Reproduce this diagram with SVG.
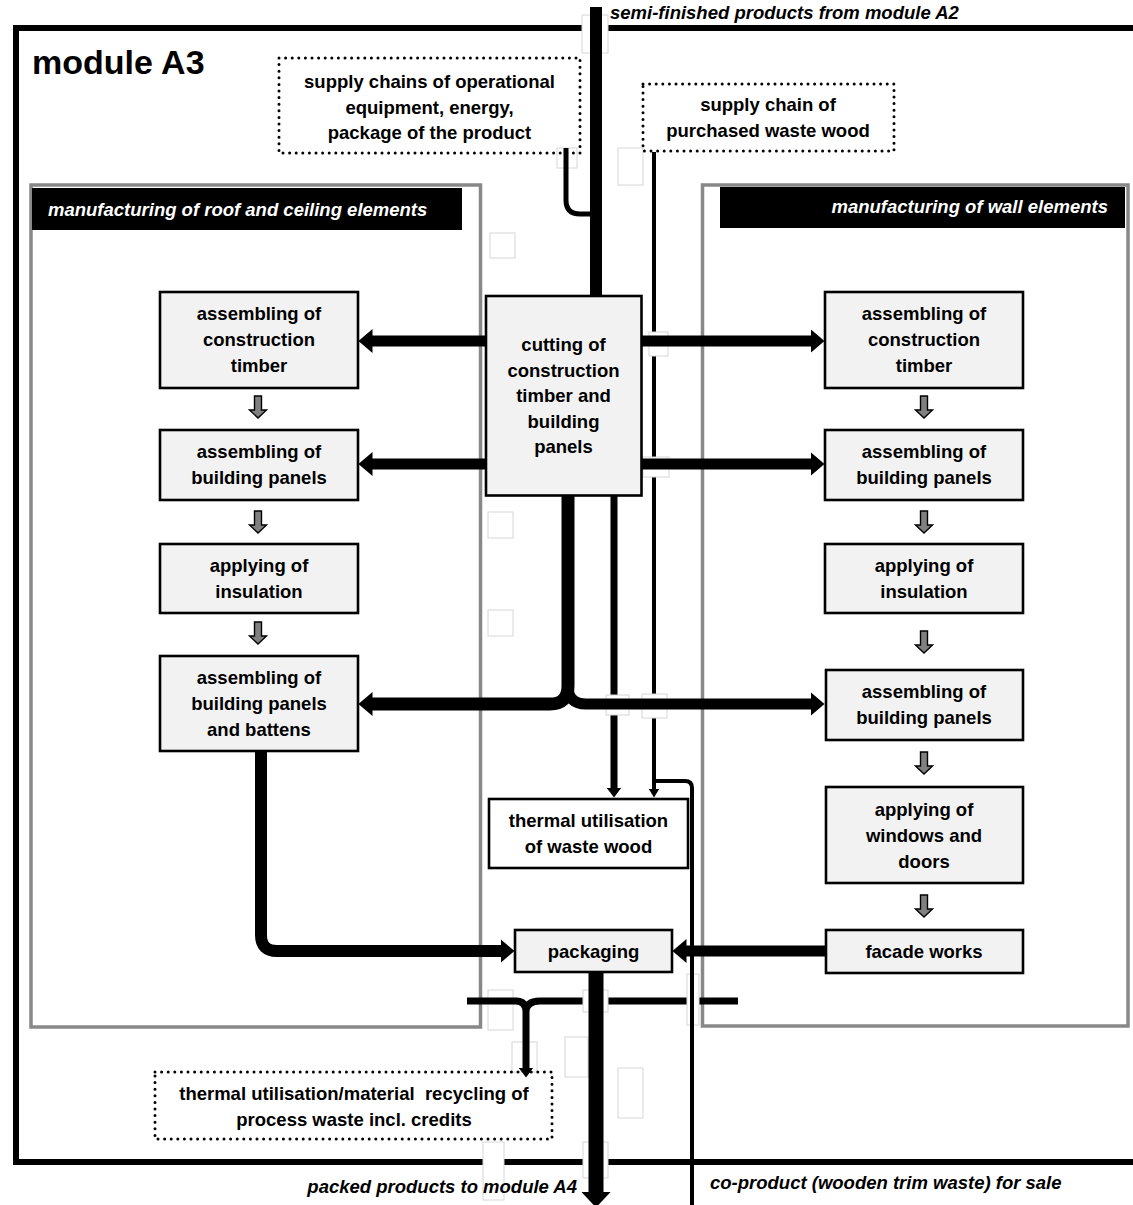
<svg xmlns="http://www.w3.org/2000/svg" width="1133" height="1205" viewBox="0 0 1133 1205">
<style>
  text{font-family:"Liberation Sans",Arial,sans-serif;font-weight:bold;font-size:18.5px;fill:#000}
  .c{text-anchor:middle}
  .it{font-style:italic}
  .wh{fill:#fff}
  .title{font-size:34px}
  .box{fill:#f2f2f2;stroke:#000;stroke-width:2.6}
  .wbox{fill:#fff;stroke:#000;stroke-width:2.6}
  .dot{fill:none;stroke:#000;stroke-width:3;stroke-dasharray:0 6.6;stroke-linecap:round}
  .panel{fill:#fff;stroke:#888;stroke-width:3.5}
  .hdr{fill:#000}
  .art{fill:#fff;stroke:#d6d6d6;stroke-width:1}
  .ln{fill:none;stroke:#000;stroke-linecap:butt;stroke-linejoin:round}
  .w4{stroke-width:4}
  .w5{stroke-width:5}
  .w7{stroke-width:7}
  .w11{stroke-width:11}
  .w12{stroke-width:12}
  .w13{stroke-width:13}
  .w15{stroke-width:15}
  .sm{fill:#808080;stroke:#000;stroke-width:1.4}
</style>
<defs>
  <marker id="big" viewBox="0 -12 14 24" refX="0.5" refY="0" markerWidth="14" markerHeight="24" markerUnits="userSpaceOnUse" orient="auto"><path d="M0,-12 L14,0 L0,12 Z" fill="#000"/></marker>
  <marker id="med" viewBox="0 -7.5 10 15" refX="0.5" refY="0" markerWidth="10" markerHeight="15" markerUnits="userSpaceOnUse" orient="auto"><path d="M0,-7.5 L10,0 L0,7.5 Z" fill="#000"/></marker>
  <marker id="thin" viewBox="0 -5.5 9 11" refX="0.5" refY="0" markerWidth="9" markerHeight="11" markerUnits="userSpaceOnUse" orient="auto"><path d="M0,-5.5 L9,0 L0,5.5 Z" fill="#000"/></marker>
  <marker id="huge" viewBox="0 -15 16 30" refX="0.5" refY="0" markerWidth="16" markerHeight="30" markerUnits="userSpaceOnUse" orient="auto"><path d="M0,-15 L16,0 L0,15 Z" fill="#000"/></marker>
  <path id="down" class="sm" d="M-3.5,0 H3.5 V14 H8.5 L0,22 L-8.5,14 H-3.5 Z"/>
</defs>

<!-- module frame -->
<g id="module">
  <path d="M1140,28 H16 V1162 H1140" fill="none" stroke="#000" stroke-width="6"/>
  <text class="title" x="32" y="74">module A3</text>
</g>

<!-- panels -->
<g id="panel-roof">
  <rect class="panel" x="31" y="185" width="449.5" height="842"/>
  <rect class="hdr" x="32" y="188" width="430" height="42"/>
  <text class="it wh" x="48" y="216">manufacturing of roof and ceiling elements</text>
</g>
<g id="panel-wall">
  <rect class="panel" x="702.5" y="185" width="425.5" height="841"/>
  <rect class="hdr" x="720" y="187" width="405" height="41"/>
  <text class="it wh" x="1108" y="213" text-anchor="end">manufacturing of wall elements</text>
</g>

<!-- connectors drawn beneath the faint leftover rectangles -->
<g id="connectors-under">
  <path class="ln w4" d="M654,152 V789" marker-end="url(#thin)"/>
  <path class="ln w7" d="M614,496 V788" marker-end="url(#med)"/>
  <path class="ln w7" d="M540,1001 H738"/>
</g>

<!-- faint leftover rectangles visible in the picture -->
<g id="leftovers">
  <rect class="art" x="582" y="15" width="26" height="38"/>
  <rect class="art" x="557" y="148" width="20" height="20"/>
  <rect class="art" x="618" y="148" width="25" height="37"/>
  <rect class="art" x="490" y="233" width="25" height="25"/>
  <rect class="art" x="649" y="332" width="19" height="24"/>
  <rect class="art" x="643" y="457" width="26" height="20"/>
  <rect class="art" x="488" y="512" width="25" height="26"/>
  <rect class="art" x="488" y="610" width="25" height="26"/>
  <rect class="art" x="606" y="695" width="23" height="20"/>
  <rect class="art" x="642" y="694" width="25" height="24"/>
  <rect class="art" x="687" y="974" width="12" height="51"/>
  <rect class="art" x="488" y="990" width="25" height="40"/>
  <rect class="art" x="583" y="990" width="25" height="22"/>
  <rect class="art" x="512" y="1042" width="25" height="30"/>
  <rect class="art" x="565" y="1037" width="23" height="40"/>
  <rect class="art" x="618" y="1068" width="25" height="50"/>
  <rect class="art" x="583" y="1142" width="25" height="36"/>
  <rect class="art" x="483" y="1142" width="21" height="58"/>
</g>

<g id="connectors">
  <!-- from module A2 -->
  <path class="ln w12" d="M596,7 V296"/>
  <path class="ln w5" d="M566,148 V200 Q566,214 580,214 H596"/>
  <!-- cutting -> roof / wall -->
  <path class="ln w11" d="M486,341 H372" marker-end="url(#big)"/>
  <path class="ln w11" d="M486,464 H372" marker-end="url(#big)"/>
  <path class="ln w11" d="M641,341 H811" marker-end="url(#big)"/>
  <path class="ln w11" d="M641,464 H811" marker-end="url(#big)"/>
  <path class="ln w13" d="M568,495 V686 Q568,704 550,704 H372" marker-end="url(#big)"/>
  <path class="ln w11" d="M568,686 Q568,704 586,704 H811" marker-end="url(#big)"/>
  <!-- co-product branch -->
  <path class="ln w4" d="M654,781 H685 Q692,781 692,788 V1210"/>
  <!-- to packaging -->
  <path class="ln w12" d="M261,751 V935 Q261,951 277,951 H501" marker-end="url(#big)"/>
  <path class="ln w11" d="M825,951 H686" marker-end="url(#big)"/>
  <path class="ln w15" d="M596,971 V1192" marker-end="url(#huge)"/>
  <!-- process waste -->
  <path class="ln w7" d="M467,1001 H516 Q526,1001 526,1012 M540,1001 Q526,1001 526,1012 V1068" marker-end="url(#med)"/>
  <!-- small grey arrows -->
  <use href="#down" x="258" y="396"/>
  <use href="#down" x="258" y="511"/>
  <use href="#down" x="258" y="622"/>
  <use href="#down" x="924" y="396"/>
  <use href="#down" x="924" y="511"/>
  <use href="#down" x="924" y="631"/>
  <use href="#down" x="924" y="752"/>
  <use href="#down" x="924" y="895"/>
</g>

<!-- external labels -->
<g id="labels">
  <text class="it" x="610" y="19">semi-finished products from module A2</text>
  <text class="it" x="577" y="1193" text-anchor="end">packed products to module A4</text>
  <text class="it" x="710" y="1189">co-product (wooden trim waste) for sale</text>
</g>

<!-- dotted boxes -->
<g id="supply-equipment">
  <rect class="dot" x="279" y="58" width="301" height="95"/>
  <text class="c" x="429.5" y="88">supply chains of operational</text>
  <text class="c" x="429.5" y="114">equipment, energy,</text>
  <text class="c" x="429.5" y="139">package of the product</text>
</g>
<g id="supply-wastewood">
  <rect class="dot" x="643" y="84" width="251" height="67"/>
  <text class="c" x="768" y="111">supply chain of</text>
  <text class="c" x="768" y="137">purchased waste wood</text>
</g>
<g id="process-waste">
  <rect class="dot" x="155" y="1072" width="397" height="67"/>
  <text class="c" x="354" y="1100" xml:space="preserve">thermal utilisation/material  recycling of</text>
  <text class="c" x="354" y="1126">process waste incl. credits</text>
</g>

<!-- central nodes -->
<g id="cutting">
  <rect class="box" x="486" y="296" width="155.5" height="199.5"/>
  <text class="c" x="563.5" y="351">cutting of</text>
  <text class="c" x="563.5" y="377">construction</text>
  <text class="c" x="563.5" y="402">timber and</text>
  <text class="c" x="563.5" y="428">building</text>
  <text class="c" x="563.5" y="453">panels</text>
</g>
<g id="thermal-waste-wood">
  <rect class="wbox" x="489" y="799" width="199" height="69"/>
  <text class="c" x="588.5" y="827">thermal utilisation</text>
  <text class="c" x="588.5" y="853">of waste wood</text>
</g>
<g id="packaging">
  <rect class="box" x="515" y="930" width="157" height="42"/>
  <text class="c" x="593.5" y="958">packaging</text>
</g>

<!-- roof and ceiling nodes -->
<g id="roof-timber">
  <rect class="box" x="160" y="292" width="198" height="96"/>
  <text class="c" x="259" y="320">assembling of</text>
  <text class="c" x="259" y="346">construction</text>
  <text class="c" x="259" y="372">timber</text>
</g>
<g id="roof-panels">
  <rect class="box" x="160" y="430" width="198" height="70"/>
  <text class="c" x="259" y="458">assembling of</text>
  <text class="c" x="259" y="484">building panels</text>
</g>
<g id="roof-insulation">
  <rect class="box" x="160" y="544" width="198" height="69"/>
  <text class="c" x="259" y="572">applying of</text>
  <text class="c" x="259" y="598">insulation</text>
</g>
<g id="roof-battens">
  <rect class="box" x="160" y="656" width="198" height="95"/>
  <text class="c" x="259" y="684">assembling of</text>
  <text class="c" x="259" y="710">building panels</text>
  <text class="c" x="259" y="736">and battens</text>
</g>

<!-- wall nodes -->
<g id="wall-timber">
  <rect class="box" x="825" y="292" width="198" height="96"/>
  <text class="c" x="924" y="320">assembling of</text>
  <text class="c" x="924" y="346">construction</text>
  <text class="c" x="924" y="372">timber</text>
</g>
<g id="wall-panels">
  <rect class="box" x="825" y="430" width="198" height="70"/>
  <text class="c" x="924" y="458">assembling of</text>
  <text class="c" x="924" y="484">building panels</text>
</g>
<g id="wall-insulation">
  <rect class="box" x="825" y="544" width="198" height="69"/>
  <text class="c" x="924" y="572">applying of</text>
  <text class="c" x="924" y="598">insulation</text>
</g>
<g id="wall-panels-2">
  <rect class="box" x="826" y="670" width="197" height="70"/>
  <text class="c" x="924" y="698">assembling of</text>
  <text class="c" x="924" y="724">building panels</text>
</g>
<g id="wall-windows">
  <rect class="box" x="826" y="787" width="197" height="96"/>
  <text class="c" x="924" y="816">applying of</text>
  <text class="c" x="924" y="842">windows and</text>
  <text class="c" x="924" y="868">doors</text>
</g>
<g id="wall-facade">
  <rect class="box" x="826" y="930" width="197" height="43"/>
  <text class="c" x="924" y="958">facade works</text>
</g>
</svg>
